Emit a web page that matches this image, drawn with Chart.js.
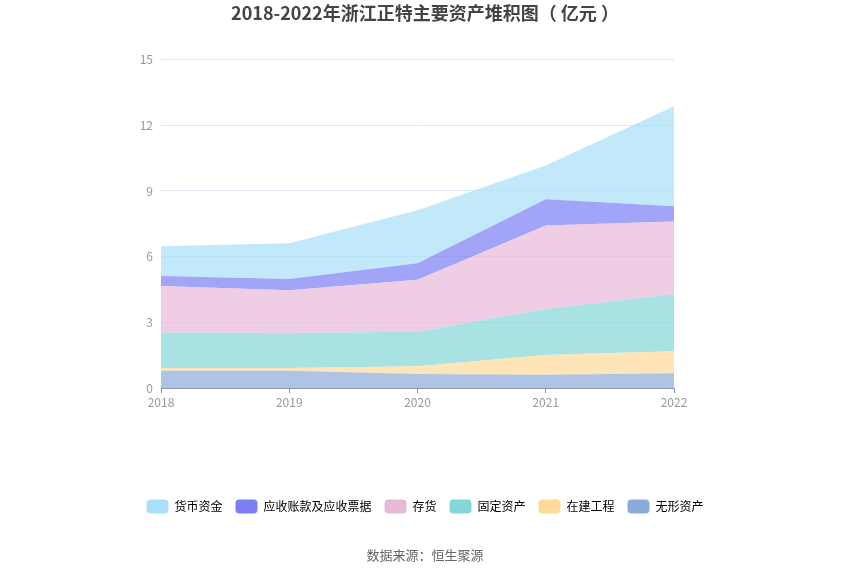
<!DOCTYPE html>
<html>
<head>
<meta charset="utf-8">
<script src="https://cdn.jsdelivr.net/npm/chart.js@4"></script>
<style>
  html, body { margin: 0; padding: 0; background: #fff; }
  #wrap { width: 850px; height: 575px; }
</style>
</head>
<body>
<div id="wrap"><canvas id="assetChart"></canvas></div>
<script>
// 数据 (亿元)
var years = ['2018', '2019', '2020', '2021', '2022'];
var intangible = [0.79, 0.79, 0.64, 0.61, 0.67];     // 无形资产
var construction = [0.12, 0.12, 0.35, 0.90, 1.01];   // 在建工程
var fixedAssets = [1.62, 1.60, 1.58, 2.10, 2.61];    // 固定资产
var inventory = [2.13, 1.95, 2.38, 3.81, 3.32];      // 存货
var receivables = [0.46, 0.52, 0.75, 1.20, 0.69];    // 应收账款及应收票据
var cash = [1.35, 1.63, 2.42, 1.54, 4.57];           // 货币资金
var yTicks = [0, 3, 6, 9, 12, 15];

var font = '"Noto Sans CJK SC", "Noto Sans", sans-serif';

function area(label, data, rgb, fill) {
    return {
        label: label,
        data: data,
        backgroundColor: 'rgba(' + rgb + ', 0.7)',
        legendColor: 'rgb(' + rgb + ')',
        borderWidth: 0,
        pointRadius: 0,
        pointHoverRadius: 0,
        tension: 0,
        fill: fill
    };
}

var ctx = document.getElementById('assetChart').getContext('2d');
var assetChart = new Chart(ctx, {
    type: 'line',
    data: {
        labels: years,
        datasets: [
            area('无形资产', intangible, '141, 171, 217', 'origin'),
            area('在建工程', construction, '255, 217, 154', '-1'),
            area('固定资产', fixedAssets, '133, 214, 214', '-1'),
            area('存货', inventory, '232, 184, 216', '-1'),
            area('应收账款及应收票据', receivables, '123, 126, 245', '-1'),
            area('货币资金', cash, '168, 224, 248', '-1')
        ]
    },
    options: {
        responsive: true,
        maintainAspectRatio: false,
        animation: false,
        layout: {
            padding: { left: 0, right: 0, top: 2, bottom: 8 }
        },
        plugins: {
            title: {
                display: true,
                text: '2018-2022年浙江正特主要资产堆积图（ 亿元 ）',
                color: '#444',
                font: { family: font, size: 18, weight: 'bold' },
                padding: { top: 0, bottom: 36 }
            },
            subtitle: {
                display: true,
                position: 'bottom',
                text: '数据来源：恒生聚源',
                color: '#666',
                font: { family: font, size: 13 },
                padding: { top: 24, bottom: 4 }
            },
            legend: {
                position: 'bottom',
                reverse: true,
                labels: {
                    color: '#666',
                    font: { family: font, size: 12 },
                    boxWidth: 22,
                    boxHeight: 14,
                    useBorderRadius: true,
                    borderRadius: 4,
                    padding: 13,
                    generateLabels: function (chart) {
                        return chart.data.datasets.map(function (ds, i) {
                            return {
                                text: ds.label,
                                fillStyle: ds.legendColor,
                                strokeStyle: ds.legendColor,
                                lineWidth: 0,
                                borderRadius: 4,
                                datasetIndex: i,
                                hidden: !chart.isDatasetVisible(i)
                            };
                        });
                    }
                }
            },
            tooltip: { enabled: false }
        },
        scales: {
            x: {
                offset: false,
                grid: {
                    display: true,
                    drawOnChartArea: false,
                    drawTicks: true,
                    tickLength: 5,
                    color: '#8394b5'
                },
                border: { color: '#8394b5' },
                ticks: {
                    color: '#999',
                    font: { family: font, size: 12 },
                    padding: 2,
                    maxRotation: 0
                },
                afterFit: function (scale) { scale.height += 75; }
            },
            y: {
                stacked: true,
                min: 0,
                max: 15,
                afterBuildTicks: function (scale) {
                    scale.ticks = yTicks.map(function (v) { return { value: v }; });
                },
                grid: { color: '#e1e7f2', drawTicks: false },
                border: { display: false },
                ticks: {
                    color: '#999',
                    font: { family: font, size: 12 },
                    padding: 8
                },
                afterFit: function (scale) { scale.width = 161; }
            },
            yRight: {
                position: 'right',
                display: true,
                grid: { display: false, drawTicks: false },
                border: { display: false },
                ticks: { display: false },
                afterFit: function (scale) { scale.width = 176; }
            }
        }
    }
});
</script>
</body>
</html>
